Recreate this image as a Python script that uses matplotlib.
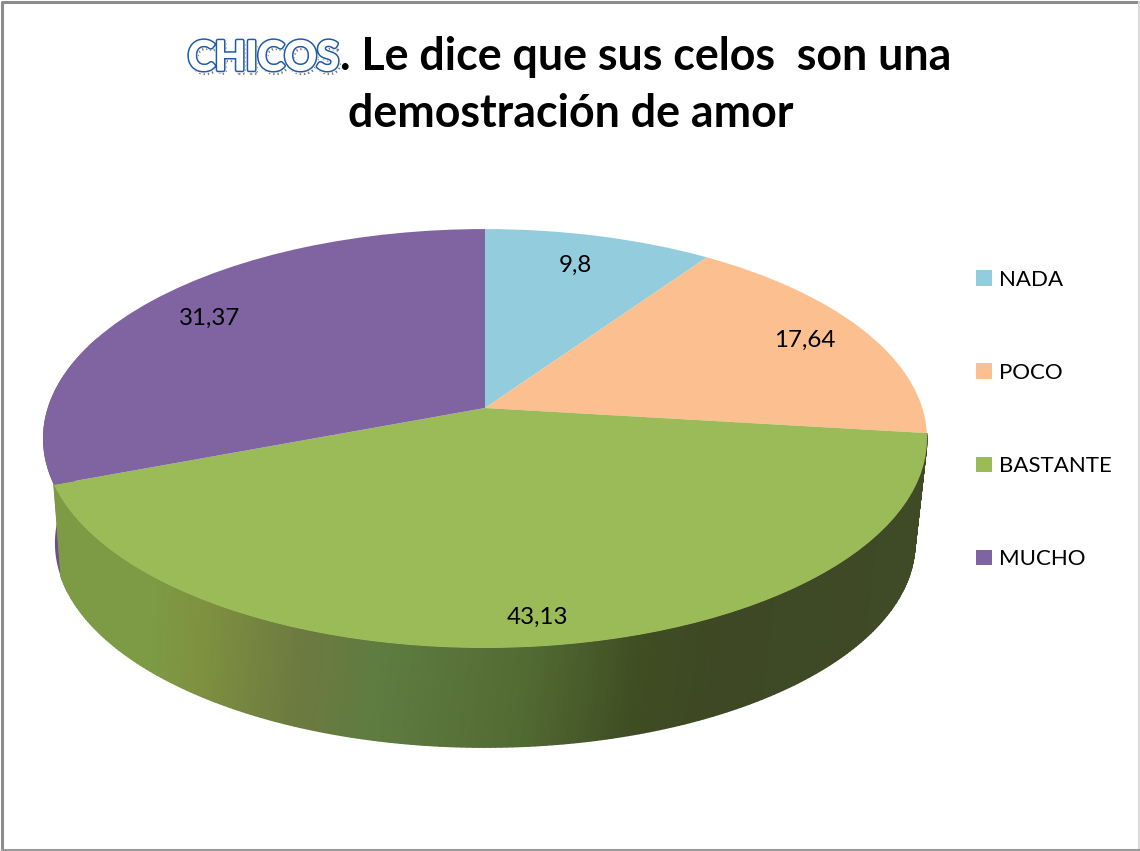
import matplotlib

matplotlib.use("Agg")
import matplotlib.patheffects as pe
import matplotlib.pyplot as plt
import numpy as np
from matplotlib.colors import LinearSegmentedColormap
from matplotlib.transforms import Transform

plt.rcParams["font.family"] = ["Lato", "DejaVu Sans"]

categories = ["NADA", "POCO", "BASTANTE", "MUCHO"]
values = [9.8, 17.64, 43.13, 31.37]
colors = ["#93CDDD", "#FCBF8F", "#9BBB59", "#8064A2"]
label_xy = [(575, 265), (805, 340), (537, 617), (210, 318)]

# shading of the green wall, left to right (pixel x, colour)
wall_x = [40, 150, 205, 303, 387, 533, 648, 725, 930]
wall_colors = ["#7C9B44", "#7D9B44", "#7F9140", "#6D7A40", "#5F7C40",
               "#526A33", "#3F4D22", "#3E4825", "#3F4A26"]

WIDTH, HEIGHT = 1140, 851
CX, CY = 485, 408      # apex of the pie on screen
A, B, P = 437.3, 205.0, 0.1456
WALL_DY, WALL_SX, WALL_SY = 104.5, 0.973, 0.976


class DiskView(Transform):
    """Perspective view of the unit pie, output in pixel coords."""
    input_dims = 2
    output_dims = 2

    def transform_non_affine(self, values):
        xy = np.asarray(values, dtype=float)
        d = 1 + P * xy[:, 1]
        return np.column_stack([CX + A * xy[:, 0] / d, CY - B * xy[:, 1] / d])


def rim(theta1, theta2):
    t = np.radians(np.linspace(theta1, theta2, 240))
    top = DiskView().transform_non_affine(np.column_stack([np.cos(t), np.sin(t)]))
    x_low = CX + WALL_SX * (top[:, 0] - CX)
    y_low = 438.5 + WALL_DY + WALL_SY * (top[:, 1] - 438.5)
    return top[:, 0], top[:, 1], x_low, y_low


fig = plt.figure(figsize=(WIDTH / 100, HEIGHT / 100), dpi=100)
ax = fig.add_axes([0, 0, 1, 1])

wedges, _ = ax.pie(values, colors=colors, startangle=90, counterclock=False,
                   wedgeprops={"linewidth": 0})
for w in wedges:
    w.set_transform(DiskView() + ax.transData)
    w.set_zorder(3)

ax.set_aspect("auto")
ax.set_xlim(0, WIDTH)
ax.set_ylim(HEIGHT, 0)
ax.axis("off")

# purple sliver behind the green wall
xt, yt, xb, yb = rim(wedges[3].theta2 - 42, wedges[3].theta2)
ax.fill(np.r_[xt, xb[::-1]], np.r_[yt, yb[::-1]], color="#6B4F8E", lw=0, zorder=1)

# green wall, its lower edge runs a little further round than the top one
xt, yt, _, _ = rim(wedges[2].theta1, wedges[2].theta2)
_, _, xb, yb = rim(wedges[2].theta1 - 3, wedges[2].theta2)
span = wall_x[-1] - wall_x[0]
cmap = LinearSegmentedColormap.from_list(
    "wall", [((x - wall_x[0]) / span, c) for x, c in zip(wall_x, wall_colors)])
ax.pcolormesh(np.vstack([xt, xb]), np.vstack([yt, yb]), np.vstack([xt, xt]),
              cmap=cmap, vmin=wall_x[0], vmax=wall_x[-1], shading="gouraud", zorder=2)

for v, (x, y) in zip(values, label_xy):
    ax.text(x, y, str(v).replace(".", ","), fontsize=17.4, color="black",
            ha="center", va="center", zorder=5)

ax.legend(wedges, categories, loc="upper left", bbox_to_anchor=(976 / WIDTH, 1 - 270 / HEIGHT),
          frameon=False, fontsize=16, handlelength=0.72, handleheight=0.72,
          handletextpad=0.32, labelspacing=3.29, borderpad=0, borderaxespad=0)

# title
ax.text(188, 70, "CHICOS", fontsize=29, fontweight="bold", color="none", zorder=5,
        path_effects=[pe.Stroke(linewidth=2, foreground="#7A7A7A", offset=(1.5, -2.5),
                                dashes={"dash_offset": 0, "dash_list": [1, 2]})])
ax.text(188, 70, "CHICOS", fontsize=29, fontweight="bold", color="white", zorder=6,
        path_effects=[pe.Stroke(linewidth=4.2, foreground="white"),
                      pe.Stroke(linewidth=3.2, foreground="#1F5BA6"),
                      pe.Stroke(linewidth=1.0, foreground="white"),
                      pe.Normal()])
ax.text(340, 70, ". Le dice que sus celos  son una", fontsize=32.2, fontweight="bold",
        color="black", ha="left", va="baseline", zorder=6)
ax.text(571, 127, "demostración de amor", fontsize=32.2, fontweight="bold",
        color="black", ha="center", va="baseline", zorder=6)

# chart frame
frame_x = [2, 2, 1139, 1139, 2]
frame_y = [850, 2, 2, 850, 850]
ax.plot(frame_x[:3], frame_y[:3], color="#8C8C8C", lw=2.2, zorder=7, clip_on=False)
ax.plot(frame_x[2:4], frame_y[2:4], color="#D9D9D9", lw=1.5, zorder=7, clip_on=False)
ax.plot(frame_x[3:], frame_y[3:], color="#9A9A9A", lw=1.5, zorder=7, clip_on=False)

fig.savefig("out.png", dpi=100)
